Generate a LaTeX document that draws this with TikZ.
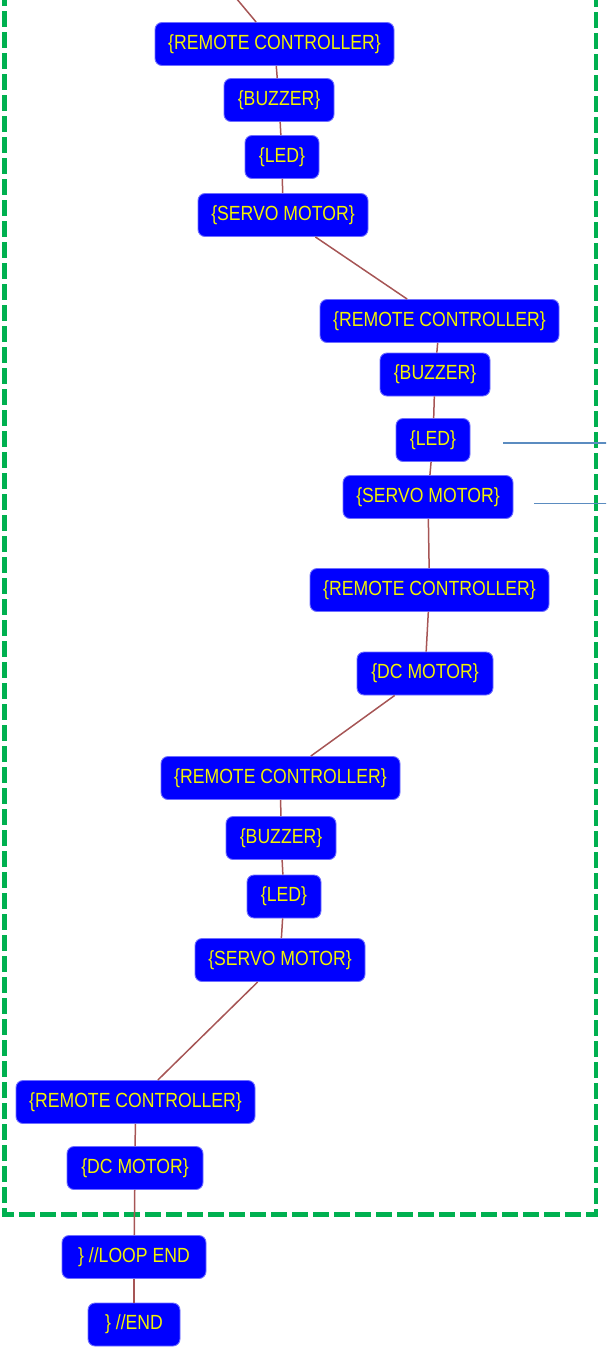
\documentclass[tikz,border=0pt]{standalone}
\usepackage{fontspec}
\newfontfamily\blockfont[FakeStretch=0.86]{Liberation Sans}
\definecolor{blockblue}{HTML}{0000FF}
\definecolor{blockrim}{HTML}{6F6FFF}
\definecolor{blocktext}{HTML}{F2F200}
\definecolor{linkred}{HTML}{A65555}
\definecolor{loopgreen}{HTML}{00B050}
\definecolor{notebluel}{HTML}{5B8CC0}
\tikzset{
  block/.style={draw=blockrim, line width=0.9pt, fill=blockblue, rounded corners=7pt,
    text=blocktext, font=\blockfont\fontsize{20.5}{22}\selectfont,
    minimum height=43pt, inner xsep=3pt, inner ysep=0pt, anchor=center},
  rc/.style={block, minimum width=239pt},
  buzzer/.style={block, minimum width=110pt},
  led/.style={block, minimum width=74pt},
  servo/.style={block, minimum width=170pt},
  dcm/.style={block, minimum width=136pt},
  link/.style={draw=linkred, line width=1.5pt},
  note/.style={draw=notebluel, line width=1.8pt},
  loopbox/.style={draw=loopgreen, line width=4.5pt, dash pattern=on 16pt off 5pt}
}
\begin{document}
\begin{tikzpicture}[x=1pt, y=-1pt]
\useasboundingbox (0,0) rectangle (606,1347);
\begin{scope}
\clip (0,0) rectangle (606,1347);

% loop frame
\draw[loopbox] (4.5,-10) -- (4.5,1214.5) -- (596,1214.5) -- (596,-10);

% blocks
\node[rc]     (rc1) at (274.5,44)  {\{REMOTE CONTROLLER\}};
\node[buzzer] (bz1) at (279,100)    {\{BUZZER\}};
\node[led]    (ld1) at (282,157)   {\{LED\}};
\node[servo]  (sv1) at (283,215)   {\{SERVO MOTOR\}};
\node[rc]     (rc2) at (439.5,321) {\{REMOTE CONTROLLER\}};
\node[buzzer] (bz2) at (435,374.5)     {\{BUZZER\}};
\node[led]    (ld2) at (433,440)   {\{LED\}};
\node[servo]  (sv2) at (428,497)   {\{SERVO MOTOR\}};
\node[rc]     (rc3) at (429.5,590) {\{REMOTE CONTROLLER\}};
\node[dcm]    (dc1) at (425,673.5)     {\{DC MOTOR\}};
\node[rc]     (rc4) at (280.5,778) {\{REMOTE CONTROLLER\}};
\node[buzzer] (bz3) at (281,838)   {\{BUZZER\}};
\node[led]    (ld3) at (284,896.5)     {\{LED\}};
\node[servo]  (sv3) at (280,960)   {\{SERVO MOTOR\}};
\node[rc]     (rc5) at (135.5,1102) {\{REMOTE CONTROLLER\}};
\node[dcm]    (dc2) at (135,1168)  {\{DC MOTOR\}};
\node[block, minimum width=144pt] (lend) at (134,1257) {\} //LOOP END};
\node[block, minimum width=92pt]  (pend) at (134,1324.5)   {\} //END};

% incoming link from above
\coordinate (entry) at (236,-2);

% links between blocks
\draw[link] (entry) -- (rc1);
\draw[link] (rc1) -- (bz1);
\draw[link] (bz1) -- (ld1);
\draw[link] (ld1) -- (sv1);
\draw[link] (sv1) -- (rc2);
\draw[link] (rc2) -- (bz2);
\draw[link] (bz2) -- (ld2);
\draw[link] (ld2) -- (sv2);
\draw[link] (sv2) -- (rc3);
\draw[link] (rc3) -- (dc1);
\draw[link] (dc1) -- (rc4);
\draw[link] (rc4) -- (bz3);
\draw[link] (bz3) -- (ld3);
\draw[link] (ld3) -- (sv3);
\draw[link] (sv3) -- (rc5);
\draw[link] (rc5) -- (dc2);
\draw[link] (dc2) -- (lend);
\draw[link] (lend) -- (pend);

% callout lines on the right
\coordinate (ledA) at (503,443);
\coordinate (ledB) at (608,443);
\coordinate (svA) at (534,503.5);
\coordinate (svB) at (608,503.5);
\draw[note] (ledA) -- (ledB);
\draw[note] (svA) -- (svB);
\end{scope}
\end{tikzpicture}
\end{document}
